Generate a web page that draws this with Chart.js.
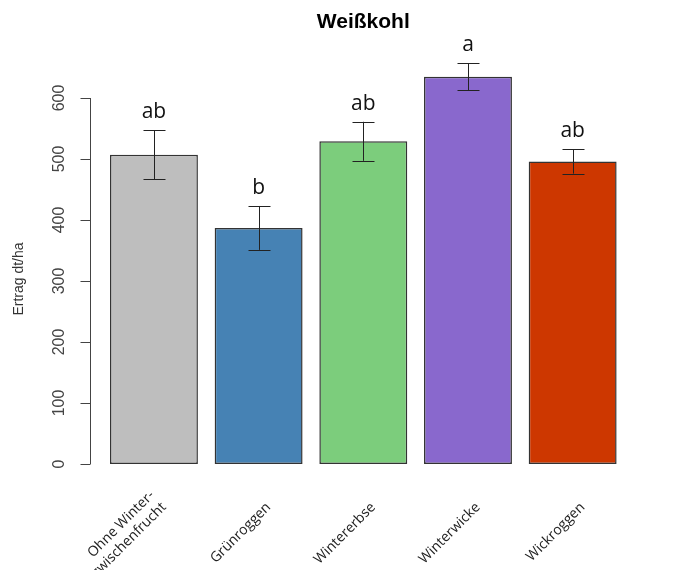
<!DOCTYPE html>
<html>
<head>
<meta charset="utf-8">
<script src="https://cdn.jsdelivr.net/npm/chart.js@4"></script>
<style>
  body { margin: 0; background: #fff; }
  #wrap { width: 674px; height: 570px; }
</style>
</head>
<body>
<div id="wrap"><canvas id="weisskohl"></canvas></div>
<script>
const sorten = [['Ohne Winter-', 'zwischenfrucht'], 'Grünroggen', 'Wintererbse', 'Winterwicke', 'Wickroggen'];
const ertrag = [507, 387, 529, 635, 496];
const fehler = [40, 36, 32, 22, 20];
const buchstaben = ['ab', 'b', 'ab', 'a', 'ab'];
const farben = ['#BEBEBE', '#4682B4', '#7CCD7C', '#8968CD', '#CD3700'];
const yTicks = [0, 100, 200, 300, 400, 500, 600];

const canvas = document.getElementById('weisskohl');

// R-style axes, error bars, letters and titles
const extras = {
    id: 'extras',
    afterDatasetsDraw(chart) {
        const ctx = chart.ctx;
        const x = chart.scales.x;
        const y = chart.scales.y;
        const area = chart.chartArea;
        const meta = chart.getDatasetMeta(0);
        ctx.save();

        // error bars
        ctx.strokeStyle = '#222';
        ctx.lineWidth = 1;
        meta.data.forEach((bar, i) => {
            const bx = Math.round(bar.x) + 0.5;
            const top = y.getPixelForValue(ertrag[i] + fehler[i]);
            const bot = y.getPixelForValue(ertrag[i] - fehler[i]);
            ctx.beginPath();
            ctx.moveTo(bx, top); ctx.lineTo(bx, bot);
            ctx.moveTo(bx - 11, Math.round(top) + 0.5); ctx.lineTo(bx + 11, Math.round(top) + 0.5);
            ctx.moveTo(bx - 11, Math.round(bot) + 0.5); ctx.lineTo(bx + 11, Math.round(bot) + 0.5);
            ctx.stroke();

            // significance letters
            ctx.fillStyle = '#111';
            ctx.font = '21px "Open Sans"';
            ctx.textAlign = 'center';
            ctx.textBaseline = 'alphabetic';
            ctx.fillText(buchstaben[i], bar.x, top - 12);
        });

        // x labels, rotated 45 degrees, last line at the anchor
        ctx.fillStyle = '#222';
        ctx.font = '14px "Open Sans"';
        ctx.textAlign = 'right';
        ctx.textBaseline = 'middle';
        sorten.forEach((lab, i) => {
            const lines = Array.isArray(lab) ? lab : [lab];
            ctx.save();
            ctx.translate(x.getPixelForValue(i) + 10, area.bottom + 41);
            ctx.rotate(-Math.PI / 4);
            lines.forEach((ln, k) => ctx.fillText(ln, 0, (k - lines.length + 1) * 16.8));
            ctx.restore();
        });

        // y axis
        const ax = Math.round(area.left - 12) + 0.5;
        ctx.strokeStyle = '#444';
        ctx.beginPath();
        ctx.moveTo(ax, y.getPixelForValue(yTicks[0]));
        ctx.lineTo(ax, y.getPixelForValue(yTicks[yTicks.length - 1]));
        yTicks.forEach(t => {
            const ty = Math.round(y.getPixelForValue(t)) + 0.5;
            ctx.moveTo(ax, ty);
            ctx.lineTo(ax - 10, ty);
        });
        ctx.stroke();

        ctx.fillStyle = '#444';
        ctx.font = '16px "Liberation Sans"';
        ctx.textAlign = 'center';
        ctx.textBaseline = 'middle';
        yTicks.forEach(t => {
            ctx.save();
            ctx.translate(60, y.getPixelForValue(t));
            ctx.rotate(-Math.PI / 2);
            ctx.fillText(String(t), 0, 0);
            ctx.restore();
        });

        // y title
        ctx.save();
        ctx.fillStyle = '#333';
        ctx.font = '14px "Liberation Sans"';
        ctx.translate(19, 279);
        ctx.rotate(-Math.PI / 2);
        ctx.fillText('Ertrag dt/ha', 0, 0);
        ctx.restore();

        // main title
        ctx.fillStyle = '#000';
        ctx.font = 'bold 21px "Liberation Sans"';
        ctx.textBaseline = 'alphabetic';
        ctx.fillText('Weißkohl', (area.left + area.right) / 2, 28);
        ctx.restore();
    }
};

new Chart(canvas, {
    type: 'bar',
    data: {
        labels: sorten,
        datasets: [{
            label: 'Ertrag dt/ha',
            data: ertrag,
            backgroundColor: farben,
            borderColor: '#333',
            borderWidth: 1.5,
            borderSkipped: false,
            barPercentage: 0.84,
            categoryPercentage: 1.0
        }]
    },
    options: {
        responsive: true,
        maintainAspectRatio: false,
        animation: false,
        layout: {
            padding: { top: 37, left: 0, right: 49, bottom: 0 }
        },
        plugins: {
            legend: { display: false },
            tooltip: { enabled: false }
        },
        scales: {
            x: {
                grid: { display: false, drawTicks: false },
                border: { display: false },
                ticks: { display: false },
                afterFit: scale => { scale.height = 106; }
            },
            y: {
                min: 0,
                max: 700,
                grid: { display: false, drawTicks: false },
                border: { display: false },
                ticks: { display: false },
                afterFit: scale => { scale.width = 101.6; }
            }
        }
    },
    plugins: [extras]
});
</script>
</body>
</html>
